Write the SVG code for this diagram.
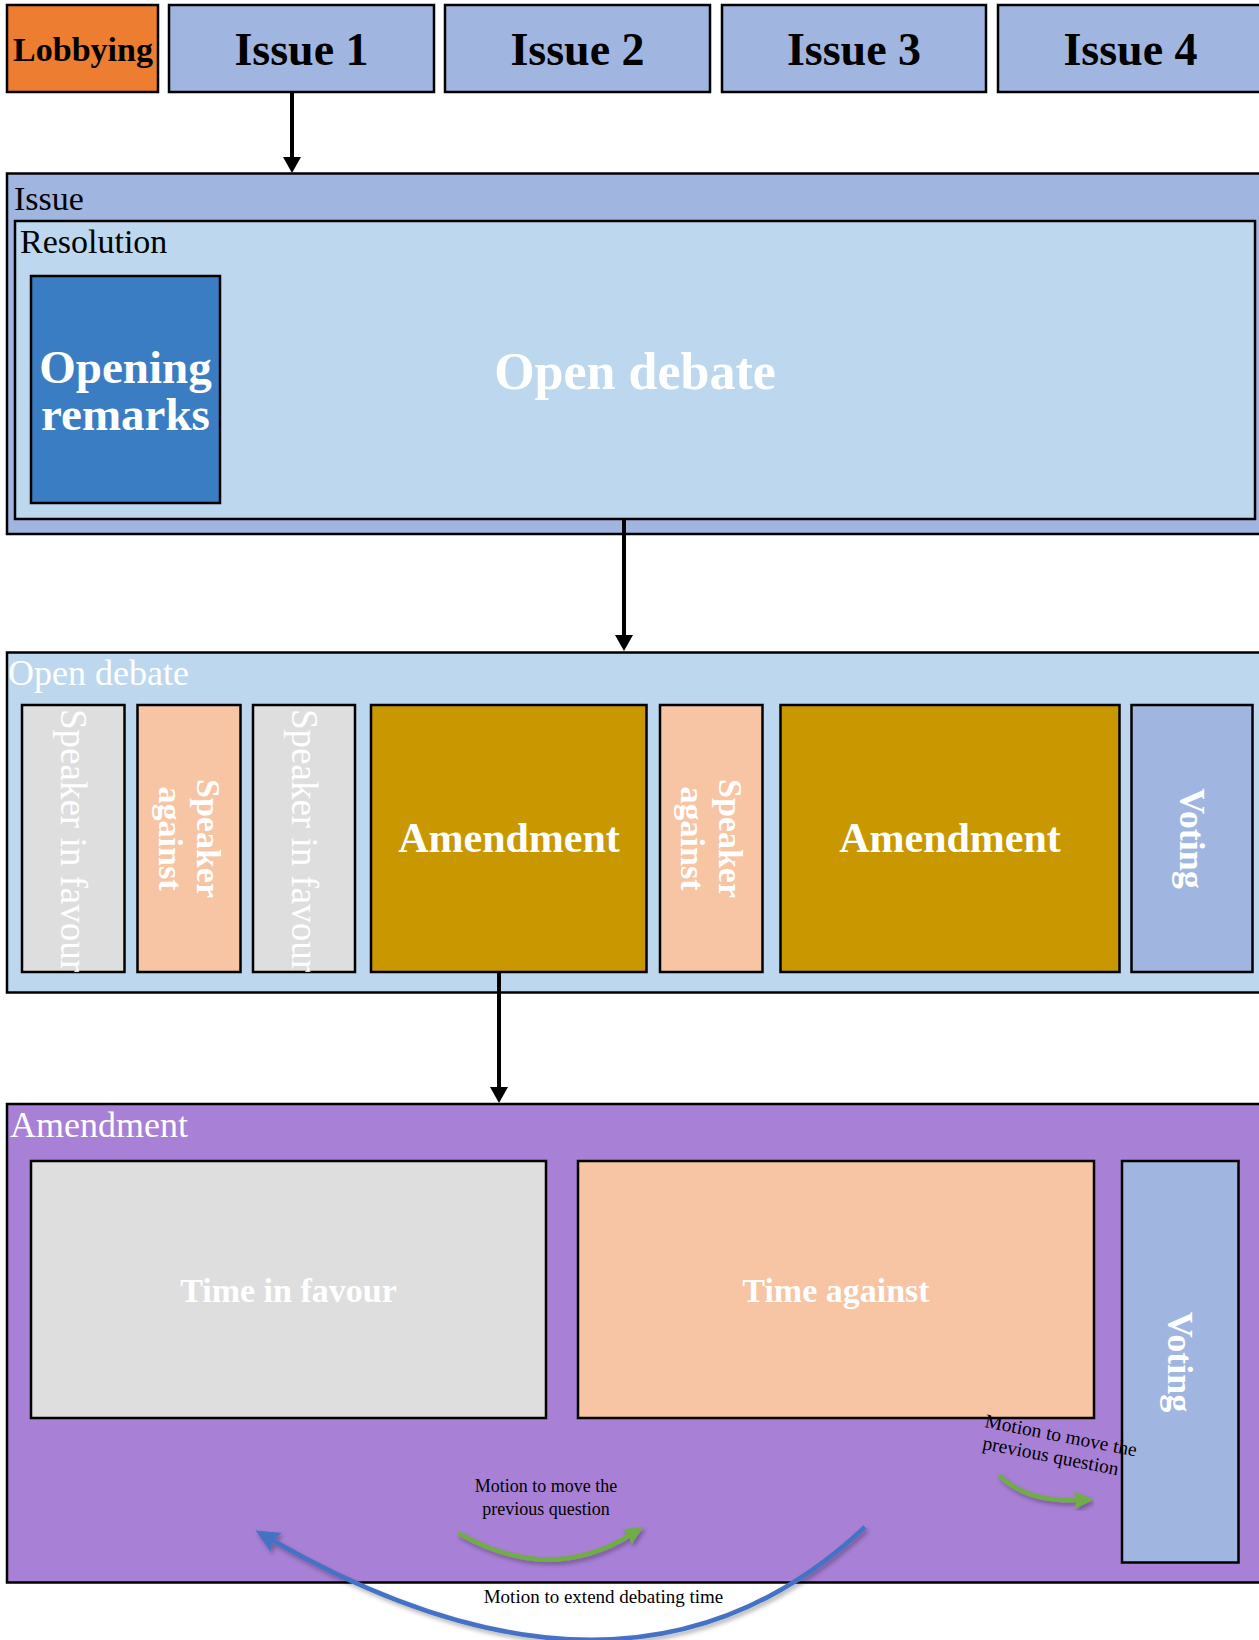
<svg xmlns="http://www.w3.org/2000/svg" width="1259" height="1640" viewBox="0 0 1259 1640">
<defs>
<style>
text{font-family:"Liberation Serif","DejaVu Serif",serif}
.b{stroke:#000;stroke-width:2.5}
.lbl{font-size:34px;fill:#000}
.wl{font-size:36px;fill:#fff}
.bd{font-weight:bold}
.w{fill:#fff}
.c{text-anchor:middle}
.issue{fill:#A0B6E0}
.fav{fill:#DEDEDE}
.ag{fill:#F7C4A4}
.am{fill:#C99700}
.conn{stroke:#000;stroke-width:4;fill:none}
.mot{font-size:18px;fill:#000}
</style>
<marker id="ah" markerUnits="userSpaceOnUse" markerWidth="17" markerHeight="18" viewBox="0 0 16 18" refX="3" refY="9" orient="auto"><path d="M0,0 L16,9 L0,18 z" fill="#000"/></marker>
<marker id="ahb" markerUnits="userSpaceOnUse" markerWidth="24" markerHeight="22" viewBox="0 0 24 22" refX="5" refY="11" orient="auto"><path d="M0,0 L24,11 L0,22 L4,11 z" fill="#4472C4"/></marker>
<marker id="ahg" markerUnits="userSpaceOnUse" markerWidth="20" markerHeight="18" viewBox="0 0 20 18" refX="4" refY="9" orient="auto"><path d="M0,0 L20,9 L0,18 L3,9 z" fill="#70AD47"/></marker>
<filter id="sh" x="-10%" y="-20%" width="130%" height="160%"><feDropShadow dx="2" dy="3" stdDeviation="2" flood-color="#000" flood-opacity="0.3"/></filter>
</defs>

<g id="lobbying"><rect x="7" y="5" width="151" height="87" fill="#ED7D31" class="b"/><text x="83" y="61" class="c bd" font-size="34">Lobbying</text></g>
<g id="issue1"><rect x="169" y="5" width="265" height="87" class="issue b"/><text x="301.5" y="65" class="c bd" font-size="46">Issue 1</text></g>
<g id="issue2"><rect x="445" y="5" width="265" height="87" class="issue b"/><text x="577.5" y="65" class="c bd" font-size="46">Issue 2</text></g>
<g id="issue3"><rect x="722" y="5" width="264" height="87" class="issue b"/><text x="854" y="65" class="c bd" font-size="46">Issue 3</text></g>
<g id="issue4"><rect x="998" y="5" width="266" height="87" class="issue b"/><text x="1130.5" y="65" class="c bd" font-size="46">Issue 4</text></g>

<g id="issue-container"><rect x="7" y="173.5" width="1265" height="360.5" class="issue b"/><text x="14" y="210" class="lbl">Issue</text></g>
<g id="resolution"><rect x="15" y="221" width="1240" height="298" fill="#BDD7EE" class="b"/><text x="20" y="253" class="lbl">Resolution</text>
<text x="635" y="389" class="c bd w" font-size="52">Open debate</text></g>
<g id="opening-remarks"><rect x="31" y="276" width="189" height="227" fill="#3A7DC2" class="b"/><text class="c bd w" font-size="47"><tspan x="125.5" y="383">Opening</tspan><tspan x="125.5" y="430">remarks</tspan></text></g>

<g id="open-debate"><rect x="7" y="652.5" width="1265" height="340" fill="#BDD7EE" class="b"/><text x="8" y="685" class="wl">Open debate</text></g>
<g id="speaker-favour-1"><rect x="22" y="705" width="102.5" height="267" class="fav b"/><text transform="translate(61,709) rotate(90)" class="w" font-size="37">Speaker in favour</text></g>
<g id="speaker-against-1"><rect x="137.5" y="705" width="103" height="267" class="ag b"/><g transform="translate(189,838.5) rotate(90)"><text class="c bd w" font-size="34"><tspan x="0" y="-8">Speaker</tspan><tspan x="0" y="30">against</tspan></text></g></g>
<g id="speaker-favour-2"><rect x="253" y="705" width="102" height="267" class="fav b"/><text transform="translate(292,709) rotate(90)" class="w" font-size="37">Speaker in favour</text></g>
<g id="amendment-1"><rect x="371" y="705" width="275.5" height="267" class="am b"/><text x="509" y="852" class="c bd w" font-size="42">Amendment</text></g>
<g id="speaker-against-2"><rect x="660" y="705" width="102.5" height="267" class="ag b"/><g transform="translate(711,838.5) rotate(90)"><text class="c bd w" font-size="34"><tspan x="0" y="-8">Speaker</tspan><tspan x="0" y="30">against</tspan></text></g></g>
<g id="amendment-2"><rect x="780.5" y="705" width="339" height="267" class="am b"/><text x="950" y="852" class="c bd w" font-size="42">Amendment</text></g>
<g id="voting-1"><rect x="1131.5" y="705" width="121" height="267" class="issue b"/><text transform="translate(1180,838.5) rotate(90)" class="c bd w" font-size="36">Voting</text></g>

<g id="amendment"><rect x="7" y="1104" width="1265" height="478.5" fill="#A880D6" class="b"/><text x="10" y="1137" class="wl">Amendment</text></g>
<g id="time-favour"><rect x="31" y="1161" width="515" height="257" class="fav b"/><text x="288.5" y="1302" class="c bd w" font-size="34">Time in favour</text></g>
<g id="time-against"><rect x="578" y="1161" width="516" height="257" class="ag b"/><text x="836" y="1302" class="c bd w" font-size="34">Time against</text></g>
<g id="voting-2"><rect x="1122" y="1161" width="116.5" height="401.5" class="issue b"/><text transform="translate(1168,1362) rotate(90)" class="c bd w" font-size="36">Voting</text></g>

<g id="connectors">
<line x1="292" y1="92" x2="292" y2="160" class="conn" marker-end="url(#ah)"/>
<line x1="624" y1="519" x2="624" y2="638" class="conn" marker-end="url(#ah)"/>
<line x1="499" y1="972" x2="499" y2="1090" class="conn" marker-end="url(#ah)"/>
<path d="M865,1527 Q632,1746 272,1540" fill="none" stroke="#4472C4" stroke-width="4.5" marker-end="url(#ahb)" filter="url(#sh)"/>
<path d="M458,1533 Q549,1585 630,1535" fill="none" stroke="#70AD47" stroke-width="4.5" marker-end="url(#ahg)" filter="url(#sh)"/>
<path d="M999,1475 Q1025,1502 1078,1500" fill="none" stroke="#70AD47" stroke-width="4.5" marker-end="url(#ahg)" filter="url(#sh)"/>
</g>

<g id="motion-labels">
<text class="c mot"><tspan x="546" y="1492">Motion to move the</tspan><tspan x="546" y="1515">previous question</tspan></text>
<text x="603.5" y="1603" class="c" font-size="19">Motion to extend debating time</text>
<g transform="translate(984,1427) rotate(11)"><text font-size="19.5" fill="#000"><tspan x="0" y="0">Motion to move the</tspan><tspan x="2" y="22">previous question</tspan></text></g>
</g>
</svg>
